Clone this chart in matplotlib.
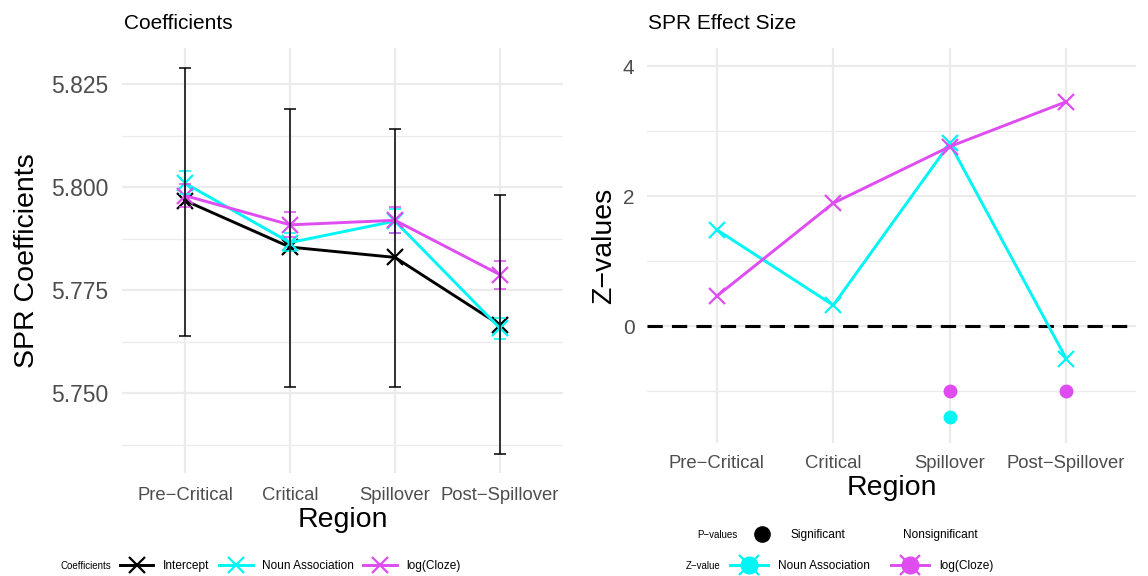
import numpy as np
import matplotlib
matplotlib.use('Agg')
import matplotlib.pyplot as plt
from matplotlib.lines import Line2D
from matplotlib.ticker import MultipleLocator

plt.rcParams['font.family'] = ['Liberation Sans', 'DejaVu Sans']

# data
regions = ['Pre\u2212Critical', 'Critical', 'Spillover', 'Post\u2212Spillover']

coef_intercept = [5.7968, 5.7855, 5.7830, 5.7666]
intercept_lo = [5.7640, 5.7516, 5.7516, 5.7354]
intercept_hi = [5.8289, 5.8190, 5.8142, 5.7982]

coef_noun = [5.8010, 5.7866, 5.7918, 5.7658]
noun_lo = [5.7985, 5.7845, 5.7890, 5.7631]
noun_hi = [5.8040, 5.7890, 5.7948, 5.7683]

coef_cloze = [5.7980, 5.7909, 5.7920, 5.7788]
cloze_lo = [5.7953, 5.7880, 5.7888, 5.7754]
cloze_hi = [5.8009, 5.7939, 5.7953, 5.7822]

z_noun = [1.48, 0.32, 2.81, -0.50]
z_cloze = [0.46, 1.89, 2.76, 3.45]
sig_noun = [False, False, True, False]
sig_cloze = [False, False, True, True]
sig_noun_y = -1.4
sig_cloze_y = -1.0

BLACK = 'black'
CYAN = '#00F5F5'
MAGENTA = '#DE4CF2'
GRID = '#EBEBEB'
TICK = '#4D4D4D'

W, H = 1148, 576
fig = plt.figure(figsize=(W / 100, H / 100), dpi=100)

def px_axes(x0, y0, x1, y1):
    return fig.add_axes([x0 / W, 1 - y1 / H, (x1 - x0) / W, (y1 - y0) / H])

def style(ax):
    for s in ax.spines.values():
        s.set_visible(False)
    ax.tick_params(length=0, colors=TICK)
    ax.grid(True, which='major', color=GRID, lw=1.6, zorder=0)
    ax.grid(True, which='minor', axis='y', color=GRID, lw=0.9, zorder=0)
    ax.set_axisbelow(True)

x = np.arange(len(regions))

# ---------- left: coefficients
ax1 = px_axes(122, 48, 563, 473)
style(ax1)
ax1.plot(x, coef_intercept, color=BLACK, lw=2.1, marker='x', ms=11, mew=1.6, zorder=3)
ax1.plot(x, coef_noun, color=CYAN, lw=2.1, marker='x', ms=11, mew=1.6, zorder=3)
ax1.plot(x, coef_cloze, color=MAGENTA, lw=2.1, marker='x', ms=11, mew=1.6, zorder=3)
for vals, lo, hi, c in [(coef_noun, noun_lo, noun_hi, CYAN),
                        (coef_cloze, cloze_lo, cloze_hi, MAGENTA),
                        (coef_intercept, intercept_lo, intercept_hi, BLACK)]:
    v = np.array(vals)
    ax1.errorbar(x, v, yerr=[v - np.array(lo), np.array(hi) - v], fmt='none',
                 ecolor=c, elinewidth=1.1, capsize=4.5, capthick=1.1, zorder=4)
ax1.set_xlim(-0.6, 3.6)
ax1.set_ylim(5.7307, 5.8338)
ax1.set_xticks(x)
ax1.set_xticklabels(regions, fontsize=13.3)
ax1.yaxis.set_major_locator(MultipleLocator(0.025))
ax1.yaxis.set_minor_locator(MultipleLocator(0.0125))
ax1.yaxis.set_major_formatter(matplotlib.ticker.FormatStrFormatter('%.3f'))
ax1.tick_params(axis='y', which='major', labelsize=16.5, pad=10)
ax1.tick_params(axis='y', which='minor', length=0)
ax1.tick_params(axis='x', pad=10)
ax1.set_xlabel('Region', fontsize=20.5, labelpad=2)
ax1.set_ylabel('SPR Coefficients', fontsize=20.5, labelpad=8)
ax1.set_title('Coefficients', fontsize=15, loc='left', pad=14, x=0.005)

# ---------- right: z values
ax2 = px_axes(647, 48, 1136, 443)
style(ax2)
ax2.plot(x, z_noun, color=CYAN, lw=2.1, marker='x', ms=12, mew=1.6, zorder=3)
ax2.plot(x, z_cloze, color=MAGENTA, lw=2.1, marker='x', ms=12, mew=1.6, zorder=3)
ax2.axhline(0, color=BLACK, lw=2.2, dashes=(5, 3), zorder=2)
xs = x[np.array(sig_cloze)]
ax2.plot(xs, [sig_cloze_y] * len(xs), 'o', color=MAGENTA, ms=9, zorder=4)
xs = x[np.array(sig_noun)]
ax2.plot(xs, [sig_noun_y] * len(xs), 'o', color=CYAN, ms=9, zorder=4)
ax2.set_xlim(-0.6, 3.6)
ax2.set_ylim(-1.8, 4.277)
ax2.set_xticks(x)
ax2.set_xticklabels(regions, fontsize=13.3)
ax2.yaxis.set_major_locator(MultipleLocator(2))
ax2.yaxis.set_minor_locator(MultipleLocator(1))
ax2.tick_params(axis='y', which='major', labelsize=15, pad=9)
ax2.tick_params(axis='y', which='minor', length=0)
ax2.tick_params(axis='x', pad=9)
ax2.set_xlabel('Region', fontsize=20.5, labelpad=2)
ax2.set_ylabel('Z\u2212values', fontsize=20.5, labelpad=4)
ax2.set_title('SPR Effect Size', fontsize=15, loc='left', pad=14, x=0.003)

# ---------- legends
leg_kw = dict(frameon=False, fontsize=8.6, borderpad=0, borderaxespad=0,
              handletextpad=0.8, loc='center left')

h_coef = [Line2D([], [], color=c, lw=2.1, marker='x', ms=12, mew=1.6)
          for c in (BLACK, CYAN, MAGENTA)]
fig.legend(h_coef, ['Intercept', 'Noun Association', 'log(Cloze)'], ncol=3,
           bbox_to_anchor=(120 / W, 1 - 566 / H), handlelength=2.8,
           columnspacing=0.8, **leg_kw)
fig.text(111 / W, 1 - 566 / H, 'Coefficients', ha='right', va='center', fontsize=7)

h_p = [Line2D([], [], ls='none', marker='o', color=BLACK, ms=11),
       Line2D([], [], ls='none', marker='', color='none')]
fig.legend(h_p, ['Significant', 'Nonsignificant'], ncol=2,
           bbox_to_anchor=(743 / W, 1 - 535 / H), handlelength=3.2,
           columnspacing=0.8, **leg_kw)
fig.text(737 / W, 1 - 535 / H, 'P\u2212values', ha='right', va='center', fontsize=7)

h_z = [(Line2D([], [], color=c, lw=2.1, marker='o', ms=12),
        Line2D([], [], ls='none', color=c, marker='x', ms=14, mew=1.6))
       for c in (CYAN, MAGENTA)]
fig.legend(h_z, ['Noun Association', 'log(Cloze)'], ncol=2,
           bbox_to_anchor=(730 / W, 1 - 566 / H), handlelength=3.2,
           columnspacing=1.8, **leg_kw)
fig.text(720 / W, 1 - 566 / H, 'Z\u2212value', ha='right', va='center', fontsize=7)

fig.savefig('out.png', dpi=100)
